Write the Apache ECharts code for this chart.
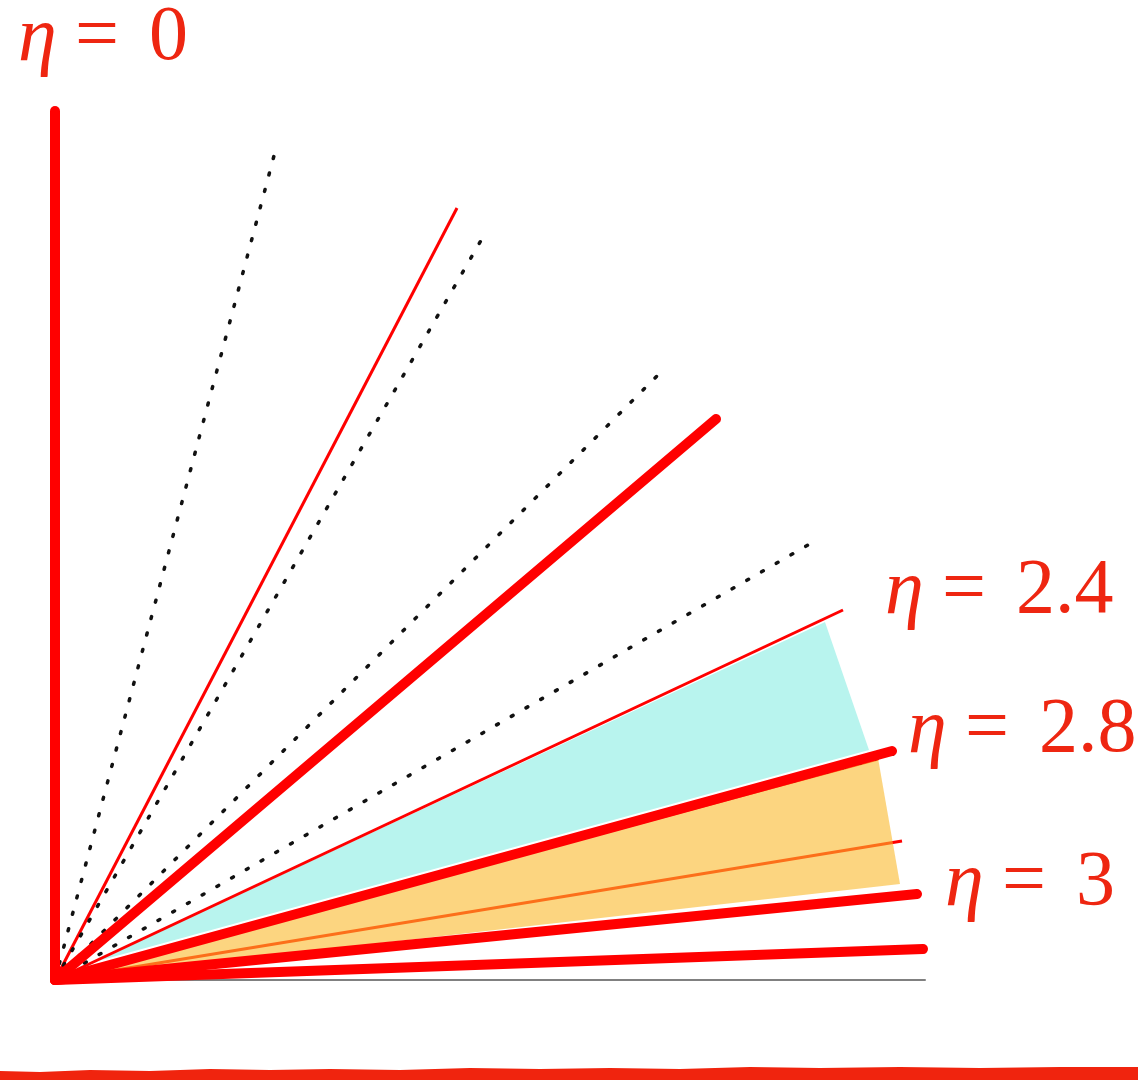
<!DOCTYPE html>
<html>
<head>
<meta charset="utf-8">
<title>Pseudorapidity rays</title>
<script src="https://cdn.jsdelivr.net/npm/echarts@6/dist/echarts.min.js"></script>
<style>
  html, body { margin: 0; padding: 0; background: #ffffff; }
  #chart { width: 1138px; height: 1080px; }
</style>
</head>
<body>
<div id="chart"></div>
<script>
// Ray end points (beam axis along x, transverse along y), origin at the interaction point.
const thickRays = [[0, 869], [661, 561], [837, 229], [862, 86], [868, 31]];
const thinRays = [[402, 772], [788, 370]];
const underFillRays = [[847, 139], [823, 221]];
const dottedRays = [[220, 828], [428, 743], [606, 608], [753, 435], [838, 226]];
// Acceptance wedges
const cyanWedge = [[0, 0], [770, 358], [815, 227]];
const orangeWedge = [[0, 0], [823, 222], [845, 96]];
// Ray labels
const rayLabels = ['0', '2.4', '2.8', '3'];

const RED = '#ff0000';
const TEXT_RED = '#ee2611';

function ray(end, width, color, z, type, cap) {
  return {
    type: 'line',
    data: [[0, 0], end],
    symbol: 'none',
    silent: true,
    animation: false,
    z: z,
    lineStyle: { width: width, color: color, type: type || 'solid', cap: cap || 'round' }
  };
}

function wedge(points, color, z) {
  return {
    type: 'custom',
    silent: true,
    animation: false,
    z: z,
    coordinateSystem: 'cartesian2d',
    data: [0],
    renderItem: function (params, api) {
      return {
        type: 'polygon',
        shape: { points: points.map(function (p) { return api.coord(p); }) },
        style: { fill: color, stroke: 'none' }
      };
    }
  };
}

const series = [];
// wedges, the 2.8 ray sits on a white underlay that separates it from the cyan band
series.push(wedge(cyanWedge, '#b8f4ee', 1));
series.push(ray(thickRays[2], 14, '#ffffff', 2));
underFillRays.forEach(function (e) { series.push(ray(e, 3, RED, 3, 'solid', 'butt')); });
series.push(wedge(orangeWedge, 'rgba(250,185,43,0.6)', 4));
thinRays.forEach(function (e) { series.push(ray(e, 3, RED, 5, 'solid', 'butt')); });
dottedRays.forEach(function (e) { series.push(ray(e, 3.5, '#111111', 6, [2, 15], 'round')); });
thickRays.forEach(function (e) { series.push(ray(e, 10, RED, 7)); });

function textPiece(str, x, y, italic) {
  const style = {
    text: str,
    fontFamily: 'Liberation Serif',
    fontSize: 78,
    fill: TEXT_RED,
    verticalAlign: 'middle'
  };
  if (italic) { style.fontStyle = 'italic'; }
  return { type: 'text', x: x, y: y, style: style };
}

// label anchors: left edge of the eta glyph and vertical centre of the digits
const labelAnchors = [[18, 39], [885, 592], [908, 731], [945, 884]];

const graphics = [];
// upright parts ("=" and value) first, italic eta afterwards
labelAnchors.forEach(function (a, i) {
  graphics.push(textPiece('=', a[0] + 57, a[1], false));
  graphics.push(textPiece(rayLabels[i], a[0] + 131, a[1], false));
});
labelAnchors.forEach(function (a) {
  graphics.push(textPiece('η', a[0], a[1], true));
});

// rough brush stroke along the bottom edge
graphics.push({
  type: 'polygon',
  shape: {
    points: [
      [0, 1080], [0, 1071], [40, 1072], [90, 1070], [150, 1071], [210, 1069], [270, 1070],
      [330, 1069], [400, 1070], [470, 1068], [540, 1069], [610, 1068], [680, 1069],
      [750, 1067], [820, 1068], [900, 1067], [980, 1068], [1060, 1067], [1138, 1067], [1138, 1080]
    ]
  },
  style: { fill: '#f0240e' }
});

const chart = echarts.init(document.getElementById('chart'));
chart.setOption({
  backgroundColor: '#ffffff',
  animation: false,
  grid: { left: 55, right: 213, top: 110, bottom: 100 },
  xAxis: {
    type: 'value', min: 0, max: 870,
    axisLine: { show: true, lineStyle: { color: '#808080', width: 2 } },
    axisTick: { show: false }, axisLabel: { show: false }, splitLine: { show: false }
  },
  yAxis: {
    type: 'value', min: 0, max: 870, show: false
  },
  series: series,
  graphic: graphics
});
</script>
</body>
</html>
